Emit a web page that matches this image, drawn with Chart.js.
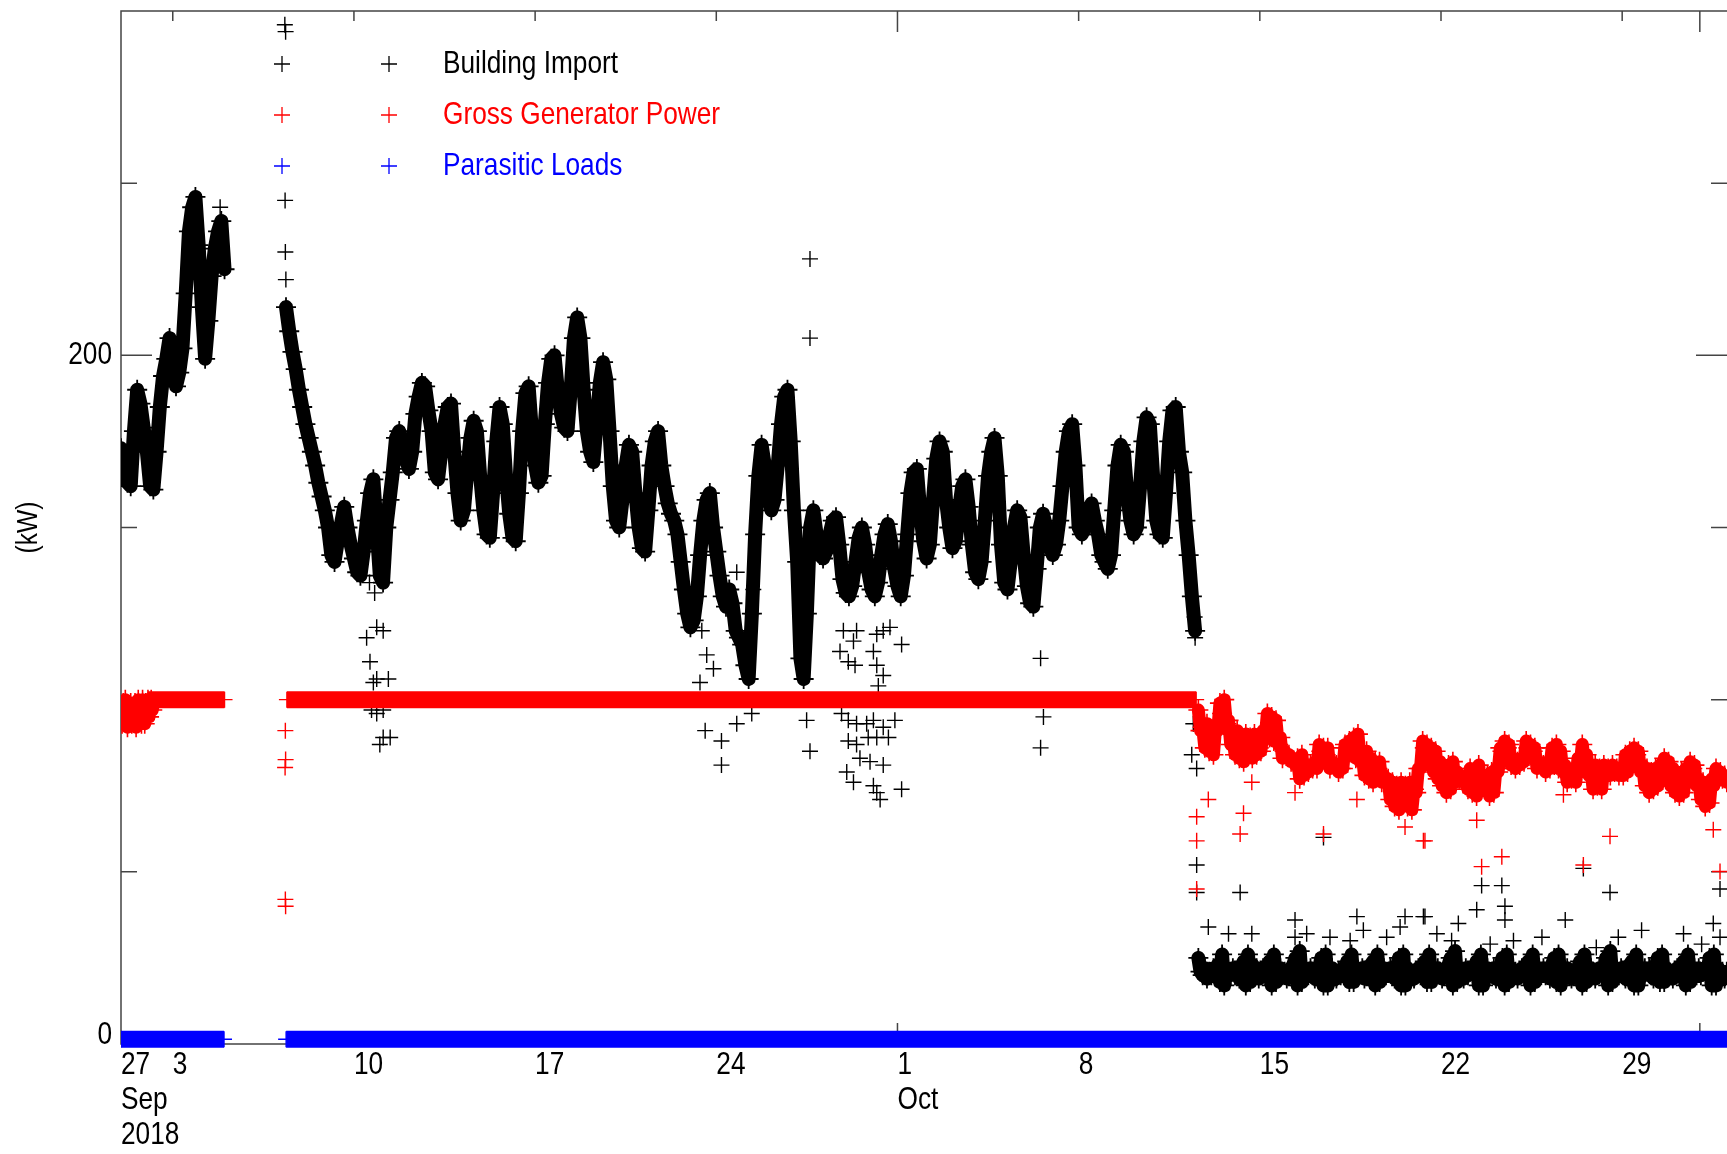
<!DOCTYPE html>
<html>
<head>
<meta charset="utf-8">
<title>Building Import / Gross Generator Power / Parasitic Loads</title>
<script src="https://cdn.jsdelivr.net/npm/chart.js@4.4.1/dist/chart.umd.min.js"></script>
<style>
  html, body { margin: 0; padding: 0; background: #fff; overflow: hidden; }
  #wrap { width: 1727px; height: 1154px; }
  #myChart { display: block; width: 1727px; height: 1154px; }
</style>
</head>
<body>
<div id="wrap"><canvas id="myChart" width="1727" height="1154"></canvas></div>
<script>
// x values are days since 1 Sep 2018 00:00, y values are kW

// axis ticks and labels
const xTickDays = [0, 2, 9, 16, 23, 30, 37, 44, 51, 58];
const xTickLabels = [["27", "Sep", "2018"], "3", "10", "17", "24", ["1", "Oct"], "8", "15", "22", "29"];
const weekTickDays = [2, 9, 16, 23, 30, 37, 44, 51, 58];
const monthTickDays = [0, 30, 61];
const yLabelTicks = [0, 200];
const yMinorTicks = [50, 100, 150, 250];
const yTitle = "(kW)";

const legendNames = ["Building Import", "Gross Generator Power", "Parasitic Loads"];
const legendColors = ["#000000", "#ff0000", "#0000ff"];

// Building Import, 3 hourly from 1 Sep 00:00
const importA = [
  173, 168, 163, 162, 178, 190, 186, 179,
  172, 162, 161, 172, 185, 194, 199, 205,
  199, 191, 195, 202, 218, 236, 243, 246,
  232, 214, 199, 210, 223, 231, 236, 239,
  225
];

// Building Import, 3 hourly from 7 Sep 09:00
const importB = [
  214, 207, 201, 196, 190,
  185, 180, 176, 172, 168, 163, 159, 155,
  150, 142, 140, 146, 151, 156, 150, 145,
  141, 137, 136, 143, 152, 160, 164, 150,
  136, 134, 150, 158, 166, 176, 178, 174,
  170, 167, 172, 183, 188, 192, 191, 184,
  178, 166, 164, 172, 180, 185, 186, 172,
  160, 152, 155, 166, 176, 181, 178, 165,
  155, 148, 147, 160, 175, 185, 180, 165,
  154, 147, 146, 160, 178, 189, 191, 178,
  168, 163, 165, 180, 192, 199, 200, 190,
  183, 179, 178, 190, 205, 211, 205, 190,
  178, 172, 169, 180, 192, 198, 193, 178,
  162, 152, 150, 158, 168, 174, 172, 160,
  150, 144, 143, 155, 168, 175, 178, 168,
  162, 157, 154, 152, 148, 140, 132, 125,
  121, 123, 130, 142, 152, 158, 160, 150,
  143, 136, 130, 127, 132, 128, 120, 118,
  116, 110, 106, 125, 148, 165, 174, 168,
  160, 155, 158, 168, 180, 188, 190, 175,
  155, 140, 112, 106, 125, 150, 155, 148,
  142, 141, 143, 148, 152, 153, 145, 135,
  131, 130, 133, 140, 147, 150, 145, 137,
  132, 130, 134, 142, 148, 151, 146, 138,
  133, 130, 136, 148, 160, 166, 167, 155,
  146, 141, 145, 158, 170, 175, 172, 158,
  150, 144, 146, 155, 162, 164, 156, 145,
  137, 135, 140, 152, 165, 172, 176, 165,
  145, 134, 132, 140, 150, 155, 153, 142,
  133, 128, 127, 138, 150, 154, 150, 145,
  142, 145, 152, 162, 172, 178, 180, 168,
  150, 148, 150, 155, 157, 152, 148, 142,
  140, 138, 142, 155, 168, 174, 172, 160,
  152, 148, 150, 162, 175, 182, 180, 165,
  152, 148, 147, 160, 175, 184, 185, 172,
  166, 152, 142, 130, 120
];

// Building Import, 2 hourly from 12 Oct 15:00
const importC = [
  25, 21, 20, 22, 19, 21, 20, 22, 21, 23, 18, 26,
  17, 22, 21, 20, 22, 20, 21, 19, 22, 24, 17, 26,
  18, 23, 20, 22, 19, 21, 22, 20, 21, 24, 17, 26,
  18, 21, 22, 20, 21, 19, 20, 22, 23, 25, 17, 27,
  18, 22, 21, 20, 22, 20, 19, 21, 22, 25, 17, 26,
  17, 21, 22, 20, 19, 21, 20, 22, 21, 24, 18, 26,
  18, 22, 20, 21, 22, 19, 21, 20, 23, 24, 17, 26,
  18, 21, 22, 20, 21, 22, 20, 19, 22, 25, 17, 26,
  17, 22, 21, 20, 19, 21, 22, 20, 21, 24, 18, 26,
  18, 21, 20, 22, 21, 19, 20, 21, 23, 25, 17, 27,
  18, 22, 21, 19, 22, 20, 21, 22, 20, 24, 17, 26,
  17, 21, 22, 20, 21, 22, 19, 20, 22, 25, 17, 26,
  18, 22, 20, 21, 19, 21, 22, 20, 21, 24, 17, 26,
  18, 21, 22, 20, 22, 20, 21, 19, 23, 25, 18, 26,
  17, 22, 21, 22, 20, 19, 20, 21, 22, 24, 17, 26,
  18, 20, 22, 21, 19, 21, 22, 20, 21, 25, 17, 27,
  18, 22, 21, 20, 22, 20, 19, 21, 23, 24, 17, 26,
  17, 21, 20, 22, 21, 22, 20, 19, 22, 25, 18, 26,
  18, 22, 21, 20, 19, 21, 22, 20, 21, 24, 17, 26,
  18, 21, 22, 20, 22, 20, 21, 22, 20, 25, 17, 26,
  17, 22, 20, 21, 19, 21
];

// scattered Building Import readings [day, kW]
const importOutliers = [
  [3.83, 243],
  [6.33, 296], [6.36, 294], [6.34, 245], [6.35, 230], [6.37, 222],
  [9.6, 134], [9.8, 131], [9.49, 118], [9.88, 121], [10.13, 120], [9.62, 111], [9.88, 106],
  [9.75, 105], [10.33, 106], [9.68, 97], [9.88, 96], [10.13, 97], [10.13, 89], [10.4, 89], [10.0, 87],
  [22.44, 120], [22.63, 113], [22.89, 109], [22.37, 105], [22.57, 91], [23.2, 88], [23.2, 81],
  [23.79, 93], [24.37, 96], [23.79, 137], [24.43, 132], [24.37, 125],
  [26.62, 228], [26.62, 205], [26.3, 131], [26.4, 125], [26.49, 94], [26.62, 85],
  [27.91, 120], [28.42, 120], [28.3, 117], [27.78, 114], [28.1, 111], [28.36, 110], [29.2, 119],
  [29.45, 120], [29.71, 121], [30.16, 116], [29.07, 114], [29.2, 110], [29.45, 107], [29.26, 104],
  [27.84, 96], [28.1, 94], [28.42, 93], [28.81, 93], [29.07, 94], [29.45, 92], [29.9, 94],
  [28.1, 88], [28.42, 87], [28.87, 89], [29.2, 89], [29.65, 89], [28.55, 83], [28.94, 82],
  [29.45, 81], [28.04, 79], [28.3, 76], [29.07, 75], [29.33, 71], [30.16, 74], [29.2, 73],
  [35.53, 112], [35.64, 95], [35.53, 86],
  [41.48, 124], [41.5, 118], [41.43, 93], [41.37, 84], [41.56, 80], [41.56, 52], [41.56, 44],
  [43.24, 44], [42.01, 34], [42.79, 32], [43.69, 32], [45.36, 36], [45.36, 31], [45.81, 32],
  [46.46, 60], [46.71, 31], [47.75, 37], [48.0, 33], [47.49, 30], [48.9, 31], [49.42, 34],
  [49.61, 37], [50.32, 37], [50.84, 32], [50.38, 37], [51.67, 35], [51.41, 30], [52.38, 39],
  [52.57, 46], [53.35, 46], [53.47, 40], [53.47, 36], [52.9, 29], [53.8, 30], [54.9, 31],
  [55.8, 36], [56.5, 51], [57.0, 28], [57.53, 44], [57.85, 31], [58.75, 33], [60.37, 32],
  [61.07, 29], [61.52, 35], [61.78, 45], [61.78, 31]
];

// Gross Generator Power, hourly from 1 Sep 00:00 (before it settles)
const genStart = [
  96, 93, 99, 94, 100, 95, 92, 98, 94, 99, 93, 97, 95, 99, 92, 96,
  100, 94, 98, 93, 100, 96, 93, 99, 97, 100, 95, 98, 100, 97, 99
];

// Gross Generator Power while steady [day, kW], null = no data
const genSteady = [[1.05, 100], [4.0, 100], [5.2, null], [6.41, 100], [41.54, 100]];

// Gross Generator Power, 2 hourly from 12 Oct 15:00
const genC = [
  97, 91, 92, 86, 93, 85, 91, 84, 92, 91, 99, 96,
  100, 93, 94, 87, 90, 84, 91, 83, 89, 82, 90, 84,
  89, 83, 90, 84, 86, 85, 91, 89, 96, 89, 95, 88,
  94, 87, 89, 83, 85, 84, 84, 82, 82, 81, 83, 77,
  84, 78, 80, 79, 81, 80, 82, 80, 87, 85, 86, 84,
  86, 80, 82, 81, 81, 79, 80, 80, 87, 86, 88, 87,
  89, 83, 90, 82, 84, 78, 85, 77, 83, 76, 82, 80,
  82, 76, 78, 77, 77, 71, 76, 69, 75, 68, 76, 70,
  75, 69, 76, 68, 74, 73, 80, 80, 88, 86, 87, 81,
  86, 79, 85, 77, 82, 75, 80, 73, 81, 74, 82, 76,
  79, 77, 77, 76, 76, 74, 80, 73, 79, 72, 81, 74,
  77, 76, 78, 72, 79, 73, 80, 79, 86, 85, 88, 86,
  87, 81, 83, 80, 82, 81, 83, 82, 88, 86, 87, 85,
  86, 80, 82, 81, 81, 79, 82, 80, 86, 81, 87, 80,
  85, 79, 81, 76, 78, 77, 79, 76, 83, 81, 87, 82,
  84, 78, 80, 74, 81, 75, 80, 74, 81, 79, 80, 78,
  81, 79, 80, 78, 79, 78, 84, 79, 85, 83, 86, 84,
  85, 79, 81, 75, 80, 73, 79, 74, 80, 75, 81, 78,
  83, 77, 82, 75, 80, 73, 78, 72, 79, 73, 80, 77,
  82, 80, 81, 75, 77, 71, 76, 69, 75, 70, 77, 75,
  80, 78, 79, 77, 78, 76
];

const genOutliers = [
  [6.35, 91], [6.36, 82.6], [6.34, 80.3], [6.35, 42], [6.36, 40],
  [41.56, 66], [41.56, 59], [41.56, 45], [42.01, 71], [43.24, 61], [43.37, 67], [43.69, 76],
  [45.36, 73], [46.46, 61], [47.75, 71], [49.61, 63], [50.32, 59], [50.38, 59], [52.38, 65],
  [52.57, 51.5], [53.35, 54.4], [55.73, 72.4], [56.5, 52], [57.53, 60.3], [61.52, 62.2], [61.78, 50.1]
];

// Parasitic Loads [day, kW], null = no data
const parasiticLoads = [[0, 1.4], [3.98, 1.4], [5.2, null], [6.38, 1.4], [62.1, 1.4]];

const xMax = 62.05;
const yMax = 300;
const FONT = "'Liberation Sans', Arial, sans-serif";
const NARROW = 0.82; // the original uses a narrow face

function stepSeries(start, step, values) {
  return values.map((v, i) => ({ x: start + i * step, y: v }));
}
function pairs(list) {
  return list.map((p) => ({ x: p[0], y: p[1] }));
}
const gapAt = (d) => ({ x: d, y: null });

function narrowText(ctx, text, x, y, align, size, color, rotate) {
  ctx.save();
  ctx.translate(x, y);
  if (rotate) ctx.rotate(rotate);
  ctx.scale(NARROW, 1);
  ctx.font = size + "px " + FONT;
  ctx.textAlign = align;
  ctx.textBaseline = "middle";
  ctx.fillStyle = color;
  ctx.fillText(text, 0, 0);
  ctx.restore();
}

// frame and inward ticks (IDL style), drawn under the data
const frameTicks = {
  id: "frameTicks",
  beforeDatasetsDraw(chart) {
    const { ctx, chartArea: a, scales } = chart;
    ctx.save();
    ctx.strokeStyle = "#444";
    ctx.lineWidth = 1.5;
    ctx.beginPath();
    ctx.moveTo(a.right, a.top);
    ctx.lineTo(a.left, a.top);
    ctx.lineTo(a.left, a.bottom);
    ctx.lineTo(a.right, a.bottom);
    const yTick = (v, len) => {
      const py = scales.y.getPixelForValue(v);
      ctx.moveTo(a.left, py);
      ctx.lineTo(a.left + len, py);
      ctx.moveTo(a.right, py);
      ctx.lineTo(a.right - len, py);
    };
    const xTick = (d, len) => {
      const px = scales.x.getPixelForValue(d);
      ctx.moveTo(px, a.top);
      ctx.lineTo(px, a.top + len);
      ctx.moveTo(px, a.bottom);
      ctx.lineTo(px, a.bottom - len);
    };
    yMinorTicks.forEach((v) => yTick(v, 16));
    yLabelTicks.forEach((v) => yTick(v, 31));
    weekTickDays.forEach((d) => xTick(d, 10));
    monthTickDays.forEach((d) => xTick(d, 21));
    ctx.stroke();
    ctx.restore();
  }
};

// tick labels and axis title, in the narrow face
const axisText = {
  id: "axisText",
  afterDraw(chart) {
    const { ctx, chartArea: a, scales } = chart;
    xTickDays.forEach((d, i) => {
      const px = scales.x.getPixelForValue(d);
      [].concat(xTickLabels[i]).forEach((t, j) => {
        narrowText(ctx, t, px, a.bottom + 21.5 + j * 35, "left", 32, "#000");
      });
    });
    yLabelTicks.forEach((v) => {
      // bottom label sits just above the axis, as in the original
      const py = Math.min(scales.y.getPixelForValue(v), a.bottom - 9);
      narrowText(ctx, String(v), a.left - 9, py, "right", 32, "#000");
    });
    narrowText(ctx, yTitle, 28.5, (a.top + a.bottom) / 2, "center", 30, "#000", -Math.PI / 2);
  }
};

// legend: two plus markers then the name, per series
const plusLegend = {
  id: "plusLegend",
  afterDraw(chart) {
    const { ctx } = chart;
    legendNames.forEach((name, i) => {
      const y = 64 + i * 51;
      ctx.save();
      ctx.strokeStyle = legendColors[i];
      ctx.lineWidth = 1.3;
      [282, 389].forEach((x) => {
        ctx.beginPath();
        ctx.moveTo(x - 8, y);
        ctx.lineTo(x + 8, y);
        ctx.moveTo(x, y - 8);
        ctx.lineTo(x, y + 8);
        ctx.stroke();
      });
      ctx.restore();
      narrowText(ctx, name, 443, y, "left", 32, legendColors[i]);
    });
  }
};

const crossPoints = {
  pointStyle: "cross",
  pointRadius: 8,
  pointHoverRadius: 8
};

// dense runs: many overlapping plus marks read as a thick band
const denseRun = {
  showLine: true,
  spanGaps: false,
  borderJoinStyle: "round",
  borderCapStyle: "round",
  pointRadius: 10,
  pointHoverRadius: 10
};

const ctx = document.getElementById("myChart");
new Chart(ctx, {
  type: "scatter",
  data: {
    datasets: [
      {
        label: "Parasitic Loads",
        data: pairs(parasiticLoads),
        ...crossPoints,
        showLine: true,
        spanGaps: false,
        borderColor: legendColors[2],
        borderWidth: 17,
        borderCapStyle: "butt",
        pointBorderColor: legendColors[2],
        pointBorderWidth: 1.4,
        clip: { left: 0, top: 0, right: 0, bottom: 10 },
        order: 0
      },
      {
        label: "Gross Generator Power",
        data: pairs(genSteady),
        ...crossPoints,
        showLine: true,
        spanGaps: false,
        borderColor: legendColors[1],
        borderWidth: 17,
        borderCapStyle: "butt",
        pointBorderColor: legendColors[1],
        pointBorderWidth: 1.4,
        order: 1
      },
      {
        label: "Gross Generator Power",
        data: [
          ...stepSeries(0, 1 / 24, genStart),
          gapAt(1.4),
          ...stepSeries(41.625, 1 / 12, genC)
        ],
        ...crossPoints,
        ...denseRun,
        borderColor: legendColors[1],
        borderWidth: 13,
        pointBorderColor: legendColors[1],
        pointBorderWidth: 1.6,
        order: 1
      },
      {
        label: "Gross Generator Power",
        data: pairs(genOutliers),
        ...crossPoints,
        showLine: false,
        borderColor: legendColors[1],
        pointBorderColor: legendColors[1],
        pointBorderWidth: 1.4,
        order: 1
      },
      {
        label: "Building Import",
        data: [
          ...stepSeries(0, 0.125, importA),
          gapAt(5.2),
          ...stepSeries(6.375, 0.125, importB),
          gapAt(41.56),
          ...stepSeries(41.625, 1 / 12, importC)
        ],
        ...crossPoints,
        ...denseRun,
        borderColor: legendColors[0],
        borderWidth: 14,
        pointBorderColor: legendColors[0],
        pointBorderWidth: 1.8,
        order: 2
      },
      {
        label: "Building Import",
        data: pairs(importOutliers),
        ...crossPoints,
        showLine: false,
        borderColor: legendColors[0],
        pointBorderColor: legendColors[0],
        pointBorderWidth: 1.4,
        order: 2
      }
    ]
  },
  options: {
    responsive: false,
    maintainAspectRatio: false,
    devicePixelRatio: 1,
    animation: false,
    events: [],
    layout: { autoPadding: false, padding: { top: 11, left: 0, right: 0, bottom: 0 } },
    plugins: {
      legend: { display: false },
      tooltip: { enabled: false }
    },
    scales: {
      x: {
        type: "linear",
        min: 0,
        max: xMax,
        grid: { display: false, drawTicks: false },
        border: { display: false },
        ticks: { display: false },
        afterFit: (s) => {
          s.height = 110;
          s.paddingLeft = 0;
          s.paddingRight = 0;
        }
      },
      y: {
        type: "linear",
        min: 0,
        max: yMax,
        grid: { display: false, drawTicks: false },
        border: { display: false },
        ticks: { display: false },
        afterFit: (s) => {
          s.width = 121;
          s.paddingTop = 0;
          s.paddingBottom = 0;
        }
      }
    }
  },
  plugins: [frameTicks, axisText, plusLegend]
});
</script>
</body>
</html>
